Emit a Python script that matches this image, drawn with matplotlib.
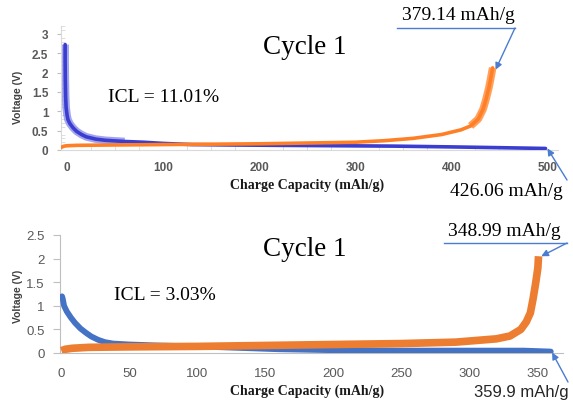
import matplotlib
matplotlib.use("Agg")
import matplotlib.pyplot as plt
from matplotlib.lines import Line2D
from matplotlib.ticker import MultipleLocator

# ---- data ----
# cycle 1, top panel (ICL = 11.01%)
top_dis_x = [-2, -2, -1.8, -1.5, -1, 0, 1, 3, 6, 10, 15, 20, 30, 40, 60, 80, 100,
             130, 170, 220, 280, 340, 400, 450, 498]
top_dis_v = [2.72, 2.3, 1.8, 1.4, 1.1, 0.9, 0.78, 0.68, 0.58, 0.48, 0.4, 0.34, 0.28,
             0.25, 0.22, 0.2, 0.17, 0.14, 0.13, 0.12, 0.11, 0.1, 0.08, 0.06, 0.04]
top_chg_x = [-8, -6, -3, 0, 10, 50, 100, 150, 200, 250, 300, 330, 360, 390, 410,
             420, 428, 433, 436, 439, 441, 443]
top_chg_v = [0.04, 0.07, 0.1, 0.11, 0.12, 0.13, 0.14, 0.15, 0.16, 0.18, 0.2, 0.24,
             0.3, 0.4, 0.52, 0.62, 0.8, 1.05, 1.3, 1.6, 1.85, 2.12]

# cycle 1, bottom panel (ICL = 3.03%)
bot_dis_x = [0.5, 1, 2, 4, 7, 10, 14, 18, 22, 27, 32, 38, 50, 70, 100, 130, 160,
             200, 250, 300, 340, 360]
bot_dis_v = [1.2, 1.15, 1.0, 0.88, 0.75, 0.64, 0.52, 0.43, 0.35, 0.28, 0.23, 0.2,
             0.18, 0.16, 0.14, 0.11, 0.08, 0.06, 0.05, 0.05, 0.05, 0.03]
bot_chg_x = [0, 3, 8, 20, 50, 100, 150, 200, 250, 290, 320, 330, 338, 342, 345,
             347, 349, 350.5, 351]
bot_chg_v = [0.05, 0.08, 0.1, 0.12, 0.13, 0.14, 0.16, 0.18, 0.2, 0.23, 0.3, 0.36,
             0.5, 0.66, 0.85, 1.15, 1.5, 1.8, 2.05]

W, H = 573, 402


def fx(px):
    return px / W


def fy(py):
    return 1 - py / H


fig = plt.figure(figsize=(W / 100, H / 100), dpi=100)

serif = "Liberation Serif"
sans = "Liberation Sans"
arrow_col = "#4A7CCF"
tick_col = "#595959"

# ---------------- top panel ----------------
ax1 = fig.add_axes([fx(61), fy(151), fx(558) - fx(61), fy(27) - fy(151)])
# wide pale band under the steep parts (stacked square markers)
ax1.plot(top_dis_x[:15], top_dis_v[:15], color="#8C8FE8", lw=5.5, alpha=0.8,
         solid_capstyle="butt", zorder=2)
ax1.plot(top_dis_x, top_dis_v, color="#3A3DD0", lw=2.6, zorder=3,
         solid_capstyle="round")
ax1.plot(top_chg_x[-7:], top_chg_v[-7:], color="#FFA05C", lw=5.5,
         solid_capstyle="butt", zorder=4)
ax1.plot(top_chg_x, top_chg_v, color="#FF7F27", lw=2.6, zorder=4,
         solid_capstyle="round")
ax1.set_xlim(-6.3, 511)
ax1.set_ylim(0, 3.2)
ax1.set_yticks([0, 0.5, 1, 1.5, 2, 2.5, 3])
ax1.set_yticklabels(["0", "0.5", "1", "1.5", "2", "2.5", "3"])
ax1.set_xticks([0, 100, 200, 300, 400, 500])
ax1.xaxis.set_minor_locator(MultipleLocator(25))
ax1.yaxis.set_minor_locator(MultipleLocator(0.1))
ax1.tick_params(axis="both", which="major", length=0, pad=8,
                labelsize=8.5, labelcolor=tick_col)
ax1.tick_params(axis="y", which="major", length=3, direction="out", color="#BFBFBF",
                pad=6)
ax1.tick_params(axis="both", which="minor", length=3, direction="in", color="#D9D9D9")
for lab in ax1.get_xticklabels() + ax1.get_yticklabels():
    lab.set_family(sans)
    lab.set_fontweight("bold")
ax1.spines[["top", "right"]].set_visible(False)
ax1.spines[["left", "bottom"]].set_color("#D9D9D9")

# ---------------- bottom panel ----------------
ax2 = fig.add_axes([fx(60), fy(354), fx(563) - fx(60), fy(236) - fy(354)])
ax2.plot(bot_dis_x, bot_dis_v, color="#4472C4", lw=4.2, zorder=3,
         solid_capstyle="round")
ax2.plot(bot_chg_x, bot_chg_v, color="#ED7D31", lw=5.5, zorder=4,
         solid_capstyle="butt")
ax2.set_xlim(-1, 369)
ax2.set_ylim(0, 2.5)
ax2.set_yticks([0, 0.5, 1, 1.5, 2, 2.5])
ax2.set_yticklabels(["0", "0.5", "1", "1.5", "2", "2.5"])
ax2.set_xticks([0, 50, 100, 150, 200, 250, 300, 350])
ax2.tick_params(axis="x", length=0, pad=10, labelsize=9.5, labelcolor=tick_col)
ax2.tick_params(axis="y", length=5, direction="out", color="#BFBFBF", pad=6,
                labelsize=9.5, labelcolor=tick_col)
for lab in ax2.get_xticklabels() + ax2.get_yticklabels():
    lab.set_family(sans)
ax2.spines[["top", "right"]].set_visible(False)
ax2.spines[["left", "bottom"]].set_color("#BFBFBF")

# ---------------- labels ----------------
for yc in (97, 296):
    fig.text(fx(18), fy(yc), "Voltage (V)", rotation=90, ha="center", va="center",
             family=sans, fontweight="bold", fontsize=7.5, color="#404040")
for yc in (185, 391):
    fig.text(fx(307), fy(yc), "Charge Capacity (mAh/g)", ha="center", va="center",
             family=serif, fontweight="bold", fontsize=10, color="#1a1a1a")

fig.text(fx(305), fy(48), "Cycle 1", ha="center", va="center", family=serif,
         fontsize=19.5)
fig.text(fx(305), fy(250), "Cycle 1", ha="center", va="center", family=serif,
         fontsize=19.5)
fig.text(fx(164), fy(97), "ICL = 11.01%", ha="center", va="center", family=serif,
         fontsize=14)
fig.text(fx(165), fy(295), "ICL = 3.03%", ha="center", va="center", family=serif,
         fontsize=14)

# capacity call-outs
fig.text(fx(458), fy(15), "379.14 mAh/g", ha="center", va="center", family=serif,
         fontsize=14)
fig.add_artist(Line2D([fx(397), fx(515)], [fy(29), fy(29)], color=arrow_col, lw=1,
                      transform=fig.transFigure))
ax1.annotate("", xy=(top_chg_x[-1] + 3, top_chg_v[-1] - 0.05),
             xytext=(fx(515), fy(29)), textcoords="figure fraction",
             arrowprops=dict(arrowstyle="-|>", color=arrow_col, lw=1,
                             mutation_scale=10, shrinkA=0, shrinkB=0),
             annotation_clip=False)

fig.text(fx(506), fy(192), "426.06 mAh/g", ha="center", va="center", family=serif,
         fontsize=14)
ax1.annotate("", xy=(top_dis_x[-1] + 2, top_dis_v[-1]),
             xytext=(fx(567), fy(181)), textcoords="figure fraction",
             arrowprops=dict(arrowstyle="-|>", color=arrow_col, lw=1,
                             mutation_scale=10, shrinkA=0, shrinkB=0),
             annotation_clip=False)

fig.text(fx(504), fy(232), "348.99 mAh/g", ha="center", va="center", family=serif,
         fontsize=14)
fig.add_artist(Line2D([fx(444), fx(567)], [fy(244), fy(244)], color=arrow_col, lw=1,
                      transform=fig.transFigure))
ax2.annotate("", xy=(bot_chg_x[-1] + 2, bot_chg_v[-1]),
             xytext=(fx(567), fy(244)), textcoords="figure fraction",
             arrowprops=dict(arrowstyle="-|>", color=arrow_col, lw=1,
                             mutation_scale=10, shrinkA=0, shrinkB=0),
             annotation_clip=False)

fig.text(fx(521), fy(393), "359.9 mAh/g", ha="center", va="center", family=sans,
         fontsize=12, color="#262626")
ax2.annotate("", xy=(bot_dis_x[-1] + 1, bot_dis_v[-1] - 0.02),
             xytext=(fx(568), fy(383)), textcoords="figure fraction",
             arrowprops=dict(arrowstyle="-|>", color=arrow_col, lw=1,
                             mutation_scale=10, shrinkA=0, shrinkB=0),
             annotation_clip=False)

fig.savefig("out.png", dpi=100)
